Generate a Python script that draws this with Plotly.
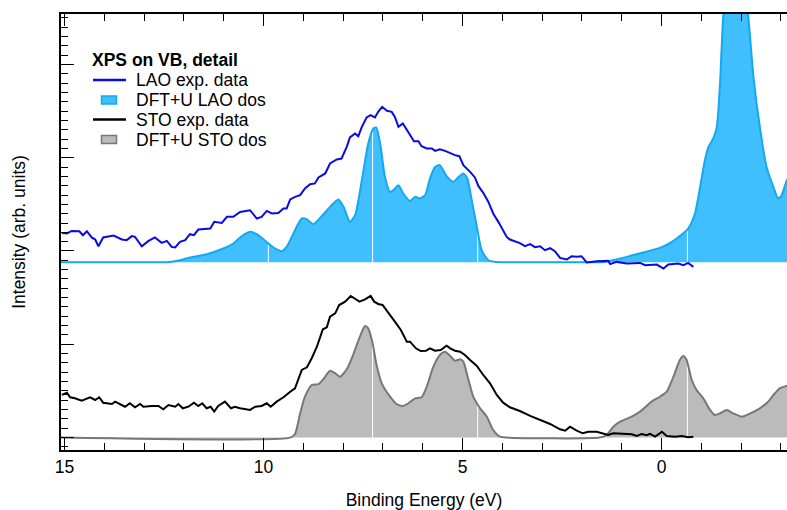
import numpy as np
import plotly.graph_objects as go

# ---------------- data (binding energy in eV, intensity in arb. units) ----------------
lao_exp_e = [15.07, 14.94, 14.82, 14.63, 14.54, 14.44, 14.32, 14.23, 14.15, 14.03,
             13.77, 13.56, 13.44, 13.31, 13.23, 13.06, 12.89, 12.73, 12.56, 12.43,
             12.31, 12.22, 12.10, 11.97, 11.85, 11.75, 11.64, 11.34, 11.24, 11.05,
             10.92, 10.76, 10.59, 10.34, 10.17, 10.05, 9.92, 9.79, 9.63, 9.50,
             9.42, 9.33, 9.21, 9.08, 8.96, 8.83, 8.71, 8.62, 8.45, 8.33,
             8.16, 8.04, 7.91, 7.83, 7.70, 7.62, 7.53, 7.41, 7.31, 7.20,
             7.12, 7.02, 6.90, 6.78, 6.70, 6.61, 6.50, 6.40, 6.32, 6.22,
             6.11, 6.03, 5.90, 5.77, 5.69, 5.57, 5.44, 5.31, 5.19, 5.08,
             4.98, 4.81, 4.69, 4.60, 4.48, 4.35, 4.23, 4.10, 3.97, 3.89,
             3.81, 3.68, 3.56, 3.43, 3.30, 3.18, 3.05, 2.93, 2.80, 2.68,
             2.55, 2.38, 2.26, 2.13, 2.01, 1.88, 1.63, 1.34, 1.29, 1.13,
             0.87, 0.54, 0.41, 0.12, -0.05, -0.17, -0.42, -0.55, -0.67, -0.80]
lao_exp_i = [0.314, 0.308, 0.335, 0.332, 0.289, 0.332, 0.265, 0.243, 0.171, 0.265,
             0.286, 0.243, 0.236, 0.279, 0.271, 0.171, 0.228, 0.265, 0.207, 0.228,
             0.164, 0.158, 0.218, 0.236, 0.300, 0.289, 0.350, 0.361, 0.432, 0.421,
             0.486, 0.486, 0.539, 0.557, 0.468, 0.486, 0.550, 0.522, 0.528, 0.576,
             0.576, 0.672, 0.700, 0.718, 0.790, 0.836, 0.844, 0.908, 0.951, 1.058,
             1.101, 1.111, 1.236, 1.337, 1.379, 1.350, 1.450, 1.551, 1.576, 1.551,
             1.611, 1.665, 1.622, 1.611, 1.557, 1.450, 1.487, 1.415, 1.361, 1.297,
             1.297, 1.243, 1.219, 1.219, 1.193, 1.211, 1.193, 1.165, 1.147, 1.136,
             1.040, 0.968, 0.908, 0.815, 0.743, 0.646, 0.522, 0.432, 0.325, 0.271,
             0.243, 0.225, 0.204, 0.171, 0.193, 0.161, 0.171, 0.129, 0.150, 0.118,
             0.046, 0.029, 0.064, 0.057, 0.064, -0.003, 0.011, 0.014, -0.021, 0.003,
             -0.014, -0.008, -0.032, -0.025, -0.068, -0.025, -0.014, -0.032, -0.008, -0.050]

lao_dos_e = [15.09, 12.85, 12.43, 12.10, 11.85, 11.43, 11.01, 10.76, 10.59, 10.34,
             10.17, 9.88, 9.71, 9.54, 9.42, 9.25, 9.04, 8.91, 8.75, 8.54,
             8.33, 8.12, 7.99, 7.83, 7.70, 7.53, 7.37, 7.24, 7.17, 7.07,
             6.95, 6.82, 6.74, 6.61, 6.49, 6.32, 6.19, 6.07, 5.94, 5.82,
             5.69, 5.57, 5.40, 5.23, 5.11, 4.98, 4.88, 4.77, 4.64, 4.52,
             4.35, 4.14, 3.56, 1.80, 1.46, 0.87, 0.46, 0.04, -0.30, -0.67,
             -0.84, -0.97, -1.09, -1.18, -1.30, -1.39, -1.47, -1.55, -1.67, -1.85,
             -2.02, -2.18, -2.31, -2.47, -2.64, -2.81, -2.93, -3.02, -3.15, -3.30]
lao_dos_i = [0.0, 0.0, 0.0, 0.02, 0.050, 0.086, 0.147, 0.200, 0.265, 0.325,
             0.300, 0.200, 0.147, 0.118, 0.164, 0.308, 0.468, 0.458, 0.407, 0.493,
             0.593, 0.672, 0.593, 0.432, 0.504, 0.879, 1.272, 1.433, 1.444, 1.272,
             0.914, 0.753, 0.772, 0.825, 0.736, 0.657, 0.700, 0.683, 0.718, 0.897,
             1.021, 1.040, 0.922, 0.861, 0.908, 0.951, 0.897, 0.665, 0.378, 0.129,
             0.021, 0.003, 0.0, 0.0, 0.003, 0.057, 0.104, 0.153, 0.228, 0.361,
             0.522, 0.807, 1.093, 1.236, 1.326, 1.450, 1.915, 2.629, 3.13, 3.34,
             3.13, 2.629, 1.986, 1.450, 1.021, 0.807, 0.683, 0.718, 0.879, 0.97]

sto_exp_e = [15.07, 14.94, 14.86, 14.74, 14.57, 14.36, 14.23, 14.13, 14.03, 13.81,
             13.73, 13.48, 13.36, 13.23, 13.10, 13.02, 12.81, 12.64, 12.52, 12.39,
             12.22, 12.14, 12.03, 11.89, 11.75, 11.64, 11.54, 11.43, 11.33, 11.24,
             11.14, 10.97, 10.82, 10.72, 10.59, 10.34, 10.21, 10.05, 9.92, 9.82,
             9.67, 9.50, 9.33, 9.21, 9.04, 8.91, 8.79, 8.66, 8.51, 8.41,
             8.33, 8.20, 8.10, 7.95, 7.81, 7.73, 7.59, 7.45, 7.31, 7.22,
             7.12, 7.01, 6.86, 6.70, 6.55, 6.40, 6.32, 6.17, 6.05, 5.92,
             5.82, 5.69, 5.55, 5.40, 5.31, 5.19, 5.06, 4.94, 4.81, 4.64,
             4.48, 4.31, 4.14, 3.98, 3.81, 3.56, 3.30, 3.05, 2.80, 2.55,
             2.42, 2.30, 2.13, 1.98, 1.84, 1.63, 1.46, 1.34, 1.21, 1.00,
             0.75, 0.62, 0.50, 0.37, 0.29, 0.16, -0.01, -0.13, -0.34, -0.51,
             -0.67, -0.80]
sto_exp_i = [0.457, 0.481, 0.432, 0.421, 0.395, 0.432, 0.403, 0.432, 0.374, 0.360,
             0.385, 0.331, 0.368, 0.325, 0.360, 0.331, 0.339, 0.339, 0.303, 0.349,
             0.331, 0.360, 0.314, 0.331, 0.374, 0.339, 0.368, 0.314, 0.331, 0.278,
             0.339, 0.385, 0.314, 0.331, 0.314, 0.296, 0.331, 0.339, 0.368, 0.331,
             0.385, 0.432, 0.492, 0.528, 0.725, 0.753, 0.850, 0.974, 1.161, 1.182,
             1.296, 1.332, 1.421, 1.457, 1.518, 1.493, 1.457, 1.482, 1.518, 1.457,
             1.432, 1.421, 1.339, 1.242, 1.153, 1.028, 1.028, 0.957, 0.928, 0.931,
             0.957, 0.931, 0.939, 0.985, 0.957, 0.931, 0.921, 0.885, 0.832, 0.767,
             0.671, 0.582, 0.457, 0.374, 0.325, 0.285, 0.232, 0.189, 0.146, 0.089,
             0.074, 0.117, 0.074, 0.046, 0.063, 0.063, 0.046, 0.028, 0.046, 0.039,
             0.035, 0.017, 0.039, 0.025, 0.039, 0.010, 0.063, 0.017, 0.010, 0.017,
             0.003, 0.010]

sto_dos_e = [15.09, 9.33, 9.21, 9.08, 8.96, 8.79, 8.62, 8.50, 8.33, 8.20,
             8.08, 7.91, 7.75, 7.58, 7.45, 7.37, 7.26, 7.16, 7.03, 6.82,
             6.66, 6.50, 6.36, 6.19, 6.03, 5.90, 5.74, 5.57, 5.44, 5.31,
             5.19, 5.06, 4.98, 4.85, 4.73, 4.56, 4.39, 4.23, 4.06, 3.89,
             1.55, 1.38, 1.21, 1.04, 0.75, 0.54, 0.25, 0.04, -0.13, -0.30,
             -0.46, -0.55, -0.63, -0.76, -0.88, -1.05, -1.22, -1.34, -1.47, -1.64,
             -1.80, -2.02, -2.23, -2.47, -2.68, -2.85, -2.97, -3.14, -3.30]
sto_dos_i = [0.0, 0.0, 0.039, 0.260, 0.438, 0.564, 0.574, 0.625, 0.717, 0.689,
             0.653, 0.732, 0.885, 1.081, 1.196, 1.171, 1.011, 0.778, 0.582, 0.438,
             0.360, 0.339, 0.368, 0.421, 0.432, 0.546, 0.753, 0.885, 0.921, 0.875,
             0.824, 0.839, 0.814, 0.617, 0.438, 0.314, 0.224, 0.081, 0.010, 0.0,
             0.0, 0.028, 0.117, 0.170, 0.224, 0.278, 0.385, 0.438, 0.492, 0.653,
             0.832, 0.875, 0.832, 0.617, 0.510, 0.421, 0.296, 0.242, 0.260, 0.296,
             0.260, 0.224, 0.260, 0.314, 0.385, 0.475, 0.528, 0.553, 0.57]

fill_break_e = [9.88, 7.26, 4.62, 1.98, -0.65]   # segment seams inside the DOS fills
LAO_OFFSET = 1.88                                  # vertical offset of the LAO curves
x_tick_vals = [15, 10, 5, 0]
x_tick_text = ["15", "10", "5", "0"]

# ---------------- styling ----------------
FONT = "Liberation Sans, Arial, Helvetica, sans-serif"
FS = 17.5
BLUE = "#0a0ae6"
LAO_FILL = "#40bfff"
LAO_EDGE = "#14a8f0"
STO_FILL = "#bbbbbb"
STO_EDGE = "#777777"
W, H = 787, 510
ML, MR, MT, MB = 61, 0, 14, 60
X_RANGE = [15.09, -3.153]
Y_RANGE = [-0.133, 4.54]


def seam_trace(e_arr, i_arr, offset):
    e_inc = np.array(e_arr)[::-1]
    i_inc = np.array(i_arr)[::-1]
    xs, ys = [], []
    for b in fill_break_e:
        v = float(np.interp(b, e_inc, i_inc))
        if v > 0.02:
            xs += [b, b, None]
            ys += [offset, offset + v - 0.01, None]
    return go.Scatter(x=xs, y=ys, mode="lines", line=dict(color="white", width=1),
                      hoverinfo="skip", showlegend=False)


fig = go.Figure()

# LAO DOS (offset)
lao_y = [LAO_OFFSET + v for v in lao_dos_i]
fig.add_trace(go.Scatter(x=[lao_dos_e[0], lao_dos_e[-1]], y=[LAO_OFFSET, LAO_OFFSET],
                         mode="lines", line=dict(width=0), showlegend=False, hoverinfo="skip"))
fig.add_trace(go.Scatter(x=lao_dos_e, y=lao_y, mode="lines", fill="tonexty", fillcolor=LAO_FILL,
                         line=dict(width=0, shape="spline", smoothing=0.6),
                         name="DFT+U LAO dos", showlegend=False))
fig.add_trace(seam_trace(lao_dos_e, lao_dos_i, LAO_OFFSET))
fig.add_trace(go.Scatter(x=lao_dos_e, y=lao_y, mode="lines",
                         line=dict(color=LAO_EDGE, width=2, shape="spline", smoothing=0.6),
                         showlegend=False, hoverinfo="skip"))
fig.add_trace(go.Scatter(x=lao_exp_e, y=[LAO_OFFSET + v for v in lao_exp_i], mode="lines",
                         line=dict(color=BLUE, width=2), name="LAO exp. data", showlegend=False))

# STO DOS
fig.add_trace(go.Scatter(x=sto_dos_e, y=sto_dos_i, mode="lines", fill="tozeroy", fillcolor=STO_FILL,
                         line=dict(width=0, shape="spline", smoothing=0.6),
                         name="DFT+U STO dos", showlegend=False))
fig.add_trace(seam_trace(sto_dos_e, sto_dos_i, 0.0))
fig.add_trace(go.Scatter(x=sto_dos_e, y=sto_dos_i, mode="lines",
                         line=dict(color=STO_EDGE, width=2, shape="spline", smoothing=0.6),
                         showlegend=False, hoverinfo="skip"))
fig.add_trace(go.Scatter(x=sto_exp_e, y=sto_exp_i, mode="lines",
                         line=dict(color="black", width=2), name="STO exp. data", showlegend=False))

# ---------------- custom legend (paper coordinates from pixel positions) ----------------
def px(xp):
    return (xp - ML) / (W - ML - MR)


def py(yp):
    return (H - MB - yp) / (H - MT - MB)


legend_rows = [
    ("line", BLUE, None, "LAO exp. data"),
    ("rect", LAO_FILL, LAO_EDGE, "DFT+U LAO dos"),
    ("line", "black", None, "STO exp. data"),
    ("rect", STO_FILL, STO_EDGE, "DFT+U STO dos"),
]
shapes = []
annotations = [dict(x=px(90), y=py(60), xref="paper", yref="paper", text="<b>XPS on VB, detail</b>",
                    showarrow=False, xanchor="left", yanchor="middle",
                    font=dict(family=FONT, size=FS, color="black"))]
row_y = [80, 100, 119.5, 139.5]
for (kind, c1, c2, label), yy in zip(legend_rows, row_y):
    if kind == "line":
        shapes.append(dict(type="line", xref="paper", yref="paper", x0=px(93), x1=px(126),
                           y0=py(yy), y1=py(yy), line=dict(color=c1, width=2.5)))
    else:
        shapes.append(dict(type="rect", xref="paper", yref="paper", x0=px(101.5), x1=px(116.5),
                           y0=py(yy - 4), y1=py(yy + 4), fillcolor=c1,
                           line=dict(color=c2, width=1.5)))
    annotations.append(dict(x=px(134), y=py(yy), xref="paper", yref="paper", text=label,
                            showarrow=False, xanchor="left", yanchor="middle",
                            font=dict(family=FONT, size=FS, color="black")))

common_y = dict(range=Y_RANGE, showgrid=False, zeroline=False, showticklabels=False,
                tickcolor="black", tickwidth=1.2, fixedrange=True)

fig.update_layout(
    width=W, height=H,
    margin=dict(l=ML, r=MR, t=MT, b=MB),
    paper_bgcolor="white", plot_bgcolor="white",
    showlegend=False,
    font=dict(family=FONT, size=FS, color="black"),
    xaxis=dict(range=X_RANGE, showgrid=False, zeroline=False,
               showline=True, linecolor="black", linewidth=2, mirror="ticks",
               ticks="inside", tickmode="array", tickvals=x_tick_vals, ticktext=x_tick_text,
               ticklen=12, tickwidth=1.2, tickcolor="black",
               minor=dict(ticks="inside", dtick=1, tick0=0, ticklen=7, tickwidth=1.2, tickcolor="black"),
               tickfont=dict(family=FONT, size=FS, color="black"),
               title=dict(text="Binding Energy (eV)", font=dict(family=FONT, size=FS), standoff=18)),
    yaxis=dict(**common_y, showline=True, linecolor="black", linewidth=2,
               ticks="inside", tickmode="linear", tick0=0, dtick=1, ticklen=13,
               minor=dict(ticks="inside", tick0=0, dtick=0.1, ticklen=7, tickwidth=1.2, tickcolor="black"),
               title=dict(text="Intensity (arb. units)", font=dict(family=FONT, size=FS), standoff=29)),
    yaxis2=dict(**common_y, overlaying="y", side="left", showline=False,
                ticks="inside", tickmode="linear", tick0=0.5, dtick=1, ticklen=10),
    yaxis3=dict(**common_y, overlaying="y", side="right", showline=False,
                ticks="inside", tickmode="linear", tick0=0, dtick=1, ticklen=7,
                minor=dict(ticks="inside", tick0=0, dtick=0.1, ticklen=2, tickwidth=1.2, tickcolor="black")),
    yaxis4=dict(**common_y, overlaying="y", side="right", showline=False,
                ticks="inside", tickmode="linear", tick0=0.5, dtick=1, ticklen=4),
    shapes=shapes,
    annotations=annotations,
)

# the page's default body margin would shift the 787x510 figure; remove it
fig.write_html("out.html",
               config={"displayModeBar": False},
               post_script="document.body.style.margin='0';"
                           "document.documentElement.style.overflow='hidden';")
